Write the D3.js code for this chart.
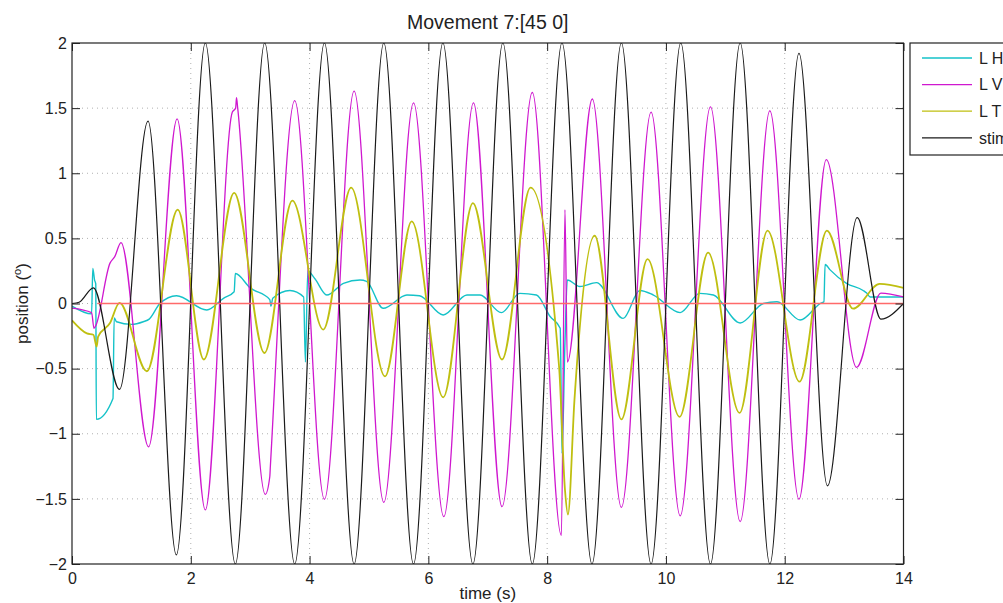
<!DOCTYPE html>
<html>
<head>
<meta charset="utf-8">
<script src="https://cdn.jsdelivr.net/npm/d3@7"></script>
<style>
  body { margin: 0; background: #fff; overflow: hidden; }
  text { font-family: "Liberation Sans", Arial, Helvetica, sans-serif; fill: #222; }
</style>
</head>
<body>
<svg id="chart" width="1003" height="603"></svg>
<script>
// ---- data -------------------------------------------------------------
const titleText = "Movement 7:[45 0]";
const xTicks = [0, 2, 4, 6, 8, 10, 12, 14];
const yTicks = [-2, -1.5, -1, -0.5, 0, 0.5, 1, 1.5, 2];
const seriesNames = ["L H", "L V", "L T", "stim"];

// L H : horizontal eye position [time (s), position (deg)]
const leftHorizontal = [
  [0.00, -0.02], [0.33, -0.08], [0.35, 0.27], [0.38, 0.18], [0.40, 0.15],
  [0.41, -0.89], [0.69, -0.73], [0.71, -0.11], [0.75, -0.14], [1.00, -0.16],
  [1.20, -0.14], [1.30, -0.12], [1.48, 0.00], [1.76, 0.06], [2.27, -0.05],
  [2.55, 0.04], [2.73, 0.09], [2.75, 0.23], [3.00, 0.12], [3.33, 0.03],
  [3.35, -0.02], [3.38, 0.04], [3.67, 0.10], [3.90, 0.05], [3.93, -0.45],
  [3.97, 0.25], [4.09, 0.19], [4.29, 0.065], [4.57, 0.155], [4.85, 0.18],
  [4.96, 0.17], [5.24, -0.037], [5.64, 0.065], [5.85, 0.06], [6.25, -0.088],
  [6.65, 0.065], [6.87, 0.065], [7.23, -0.07], [7.54, 0.078], [7.82, 0.065],
  [8.05, -0.10], [8.22, -0.19], [8.25, -1.15], [8.30, -0.30], [8.34, 0.18],
  [8.55, 0.13], [8.83, 0.16], [9.28, -0.114], [9.56, 0.10], [9.79, 0.065],
  [10.24, -0.07], [10.57, 0.078], [10.80, 0.065], [11.25, -0.15], [11.64, 0.00],
  [11.87, 0.014], [12.26, -0.127], [12.60, 0.00], [12.66, 0.014], [12.68, 0.30],
  [12.76, 0.26], [13.04, 0.155], [13.32, 0.10], [13.38, 0.08], [13.44, 0.05],
  [14.00, 0.05]
];

// L V : vertical eye position
const leftVertical = [
  [0.00, -0.035], [0.33, -0.07], [0.37, -0.19], [0.40, -0.17], [0.64, 0.31],
  [0.72, 0.36], [0.825, 0.467], [1.29, -1.10], [1.77, 1.417], [2.245, -1.585],
  [2.70, 1.47], [2.755, 1.50], [2.77, 1.58], [2.79, 1.50], [3.255, -1.465],
  [3.33, -1.33], [3.34, -1.25], [3.75, 1.557], [4.25, -1.503], [4.75, 1.63],
  [5.25, -1.527], [5.75, 1.54], [6.26, -1.637], [6.76, 1.54], [7.24, -1.56],
  [7.75, 1.62], [8.24, -1.78], [8.30, 0.72], [8.34, -0.45], [8.76, 1.57],
  [9.25, -1.565], [9.75, 1.47], [10.24, -1.63], [10.75, 1.51], [11.25, -1.675],
  [11.75, 1.48], [12.24, -1.503], [12.70, 1.105], [13.21, -0.49], [13.62, 0.08],
  [14.00, 0.05]
];

// L T : torsional eye position
const leftTorsion = [
  [0.00, -0.13], [0.25, -0.23], [0.36, -0.24], [0.415, -0.33], [0.44, -0.255],
  [0.64, -0.15], [0.80, 0.005], [1.26, -0.52], [1.78, 0.72], [2.22, -0.43],
  [2.73, 0.85], [3.24, -0.38], [3.71, 0.79], [4.23, -0.20], [4.70, 0.89],
  [5.27, -0.56], [5.72, 0.63], [6.25, -0.72], [6.75, 0.77], [7.24, -0.43],
  [7.72, 0.89], [8.20, -0.48], [8.30, -1.43], [8.35, -1.62], [8.46, -0.74],
  [8.80, 0.52], [9.25, -0.89], [9.69, 0.34], [10.23, -0.87], [10.71, 0.39],
  [11.24, -0.84], [11.71, 0.56], [12.25, -0.60], [12.71, 0.56], [13.15, -0.04],
  [13.60, 0.15], [14.00, 0.12]
];

// stim : stimulus position (turning points)
const stimulus = [
  [0.00, 0.00], [0.12, 0.01], [0.36, 0.12], [0.80, -0.66], [1.28, 1.40],
  [1.757, -1.93], [2.245, 2.00], [2.75, -2.00], [3.245, 2.00], [3.75, -2.00],
  [4.25, 2.00], [4.75, -2.00], [5.25, 2.00], [5.75, -2.00], [6.245, 2.00],
  [6.75, -2.00], [7.255, 2.00], [7.75, -2.00], [8.25, 2.00], [8.755, -2.00],
  [9.25, 2.00], [9.75, -2.00], [10.25, 2.00], [10.75, -2.00], [11.25, 2.00],
  [11.75, -2.00], [12.24, 1.92], [12.72, -1.40], [13.22, 0.66], [13.62, -0.12],
  [14.00, 0.00]
];

// zero reference
const zeroLine = [[0.43, 0], [14.00, 0]];

// ---- style --------------------------------------------------------------
const seriesColors = ["#14c2c8", "#cf18cf", "#bfbf10", "#1a1a1a"];
const seriesWidths = [1.4, 1.3, 1.8, 1.2];

// ---- scales & frame -------------------------------------------------------
const svg = d3.select("#chart");
const x = d3.scaleLinear().domain([0, 14]).range([72, 903.5]);
const y = d3.scaleLinear().domain([-2, 2]).range([564, 43]);
const [plotL, plotR] = x.range();
const [plotB, plotT] = y.range();

svg.append("defs").append("clipPath").attr("id", "plot-clip")
  .append("rect").attr("x", plotL).attr("y", plotT)
  .attr("width", plotR - plotL).attr("height", plotB - plotT);

svg.append("rect").attr("x", plotL).attr("y", plotT)
  .attr("width", plotR - plotL).attr("height", plotB - plotT).attr("fill", "#fff");

// dotted grid
const grid = svg.append("g").attr("stroke", "#b0b0b0").attr("stroke-width", 1)
  .attr("stroke-dasharray", "1,4");
grid.selectAll(".gx").data(xTicks.filter(d => d > 0 && d < 14)).join("line")
  .attr("x1", d => x(d)).attr("x2", d => x(d)).attr("y1", plotT).attr("y2", plotB);
grid.selectAll(".gy").data(yTicks.filter(d => d > -2 && d < 2)).join("line")
  .attr("x1", plotL).attr("x2", plotR).attr("y1", d => y(d)).attr("y2", d => y(d));

// data lines
const line = d3.line().x(d => x(d[0])).y(d => y(d[1])).curve(d3.curveMonotoneX);
const plot = svg.append("g").attr("clip-path", "url(#plot-clip)");
const allSeries = [leftHorizontal, leftVertical, leftTorsion, stimulus];
allSeries.forEach((s, i) => {
  plot.append("path").datum(s).attr("d", line).attr("fill", "none")
    .attr("stroke", seriesColors[i]).attr("stroke-width", seriesWidths[i])
    .attr("stroke-linejoin", "round");
});
plot.append("path").datum(zeroLine).attr("d", d3.line().x(d => x(d[0])).y(d => y(d[1])))
  .attr("fill", "none").attr("stroke", "#ff6a6a").attr("stroke-width", 1.6);

// axes with inward ticks on all four sides
const fmt = d => d < 0 ? "\u2212" + Math.abs(d) : String(d);
const styleAxis = g => {
  g.select(".domain").remove();
  g.selectAll(".tick line").attr("stroke", "#222").attr("stroke-width", 1);
  g.selectAll(".tick text").attr("font-size", 16).attr("fill", "#222");
};
svg.append("g").attr("transform", `translate(0,${plotB})`)
  .call(d3.axisBottom(x).tickValues(xTicks).tickSize(-8).tickPadding(8.5).tickFormat(fmt))
  .call(styleAxis);
svg.append("g").attr("transform", `translate(0,${plotT})`)
  .call(d3.axisTop(x).tickValues(xTicks).tickSize(-8).tickFormat(""))
  .call(styleAxis);
svg.append("g").attr("transform", `translate(${plotL},0)`)
  .call(d3.axisLeft(y).tickValues(yTicks).tickSize(-8).tickPadding(5).tickFormat(fmt))
  .call(styleAxis);
svg.append("g").attr("transform", `translate(${plotR},0)`)
  .call(d3.axisRight(y).tickValues(yTicks).tickSize(-8).tickFormat(""))
  .call(styleAxis);
svg.selectAll("g text").attr("font-family", "'Liberation Sans', Arial, sans-serif");

svg.append("rect").attr("x", plotL).attr("y", plotT)
  .attr("width", plotR - plotL).attr("height", plotB - plotT)
  .attr("fill", "none").attr("stroke", "#222").attr("stroke-width", 1.2);

// title and axis labels
svg.append("text").attr("x", (plotL + plotR) / 2).attr("y", 29)
  .attr("text-anchor", "middle").attr("font-size", 19.5).text(titleText);
svg.append("text").attr("x", (plotL + plotR) / 2).attr("y", 599)
  .attr("text-anchor", "middle").attr("font-size", 17).text("time (s)");
const yl = svg.append("text").attr("transform", `translate(28,${(plotT + plotB) / 2}) rotate(-90)`)
  .attr("text-anchor", "middle").attr("font-size", 17);
yl.append("tspan").text("position (");
yl.append("tspan").attr("font-size", 11).attr("dy", -7).text("o");
yl.append("tspan").attr("dy", 7).text(")");

// legend (its right part runs past the page edge)
const lg = svg.append("g").attr("transform", "translate(910,43)");
lg.append("rect").attr("width", 130).attr("height", 112)
  .attr("fill", "#fff").attr("stroke", "#222").attr("stroke-width", 1.2);
const rows = lg.selectAll(".row").data(seriesNames).join("g")
  .attr("transform", (d, i) => `translate(0,${15 + i * 26.6})`);
rows.append("line").attr("x1", 12).attr("x2", 62)
  .attr("stroke", (d, i) => seriesColors[i]).attr("stroke-width", 1.3);
rows.append("text").attr("x", 69).attr("dy", "0.36em").attr("font-size", 16).text(d => d);
</script>
</body>
</html>
